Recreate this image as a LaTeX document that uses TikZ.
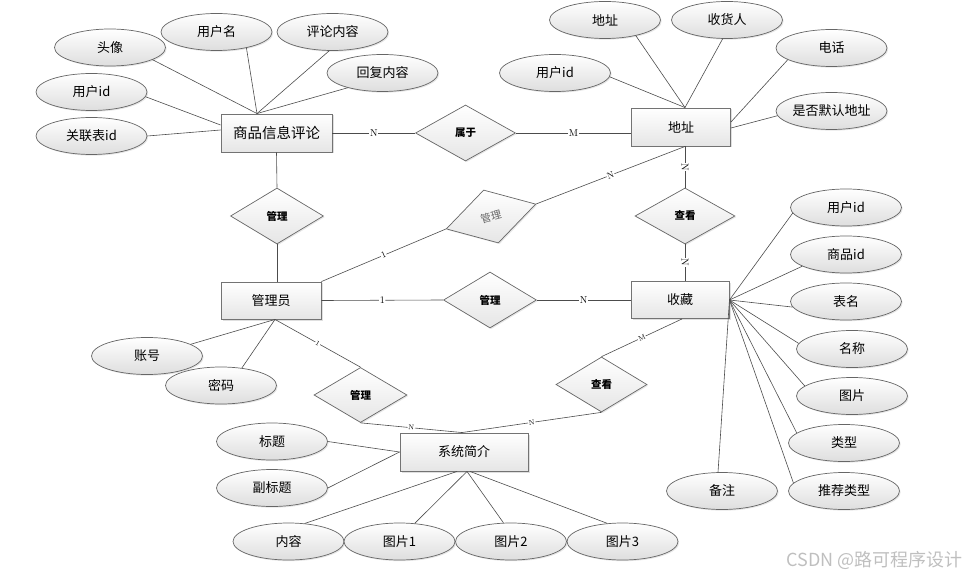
\documentclass[tikz,border=0pt]{standalone}
\usepackage{fontspec}
\newfontfamily\cjk{Noto Sans CJK SC}
\usetikzlibrary{shapes.geometric,shadows,calc}
\tikzset{
  ent/.style={draw=black!55,line width=.9pt,top color=white,bottom color=black!10,inner sep=0pt,
    minimum height=38pt,font=\cjk\fontsize{13pt}{15pt}\selectfont,
    drop shadow={shadow xshift=1.5pt,shadow yshift=-1.5pt,opacity=.25}},
  attr/.style={ellipse,draw=black!60,line width=.7pt,top color=white,bottom color=black!13,inner sep=0pt,
    minimum width=111pt,minimum height=37pt,font=\cjk\fontsize{13pt}{15pt}\selectfont,
    drop shadow={shadow xshift=1.2pt,shadow yshift=-1.2pt,opacity=.2}},
  rel/.style={diamond,draw=black!60,line width=.7pt,top color=white,bottom color=black!10,inner sep=0pt,
    minimum width=93pt,minimum height=56pt,font=\cjk\bfseries\fontsize{10.5pt}{12pt}\selectfont,
    drop shadow={shadow xshift=1.2pt,shadow yshift=-1.2pt,opacity=.2}},
  lnk/.style={draw=black!70,line width=.6pt},
  card/.style={midway,sloped,fill=white,inner sep=.6pt,font=\rmfamily\fontsize{10pt}{10pt}\selectfont},
  scard/.style={card,font=\rmfamily\fontsize{7pt}{7pt}\selectfont}
}
\begin{document}
\begin{tikzpicture}[x=1pt,y=-1pt]
  \useasboundingbox (0,0) rectangle (969,577);
  \node[ent,minimum width=111pt,font=\cjk\fontsize{14.5pt}{16pt}\selectfont] at (276.5,133) (pl) {商品信息评论};
  \node[ent,minimum width=99pt]  at (681,127)   (dz)  {地址};
  \node[ent,minimum width=100pt,minimum height=37pt] at (271,300.5) (gly) {管理员};
  \node[ent,minimum width=98pt,minimum height=37pt]  at (680,300)   (sc)  {收藏};
  \node[ent,minimum width=128pt] at (464,452)   (xt)  {系统简介};

  \node[rel,minimum width=100pt] at (465.5,133) (sy)  {属于};
  \node[rel] at (277,216)   (gl1) {管理};
  \node[rel,minimum height=55pt,rotate=15.5,font=\cjk\fontsize{10.5pt}{12pt}\selectfont,text=black!60] at (491,216.5) (gl2) {管理};
  \node[rel,minimum width=100pt] at (685,216) (ck1) {查看};
  \node[rel] at (490,300)   (gl3) {管理};
  \node[rel,minimum height=55pt] at (360.5,395) (gl4) {管理};
  \node[rel,minimum width=91pt,minimum height=55pt] at (601.5,384.5) (ck2) {查看};

  \node[attr] at (110,47.5)  (a1) {头像};
  \node[attr] at (216.5,32)  (a2) {用户名};
  \node[attr] at (332.5,32)  (a3) {评论内容};
  \node[attr] at (382.5,73)  (a4) {回复内容};
  \node[attr] at (91.5,92)   (a5) {用户id};
  \node[attr] at (91.5,136)  (a6) {关联表id};

  \node[attr] at (605,20)    (b1) {地址};
  \node[attr] at (727,20)    (b2) {收货人};
  \node[attr] at (831.5,48)  (b3) {电话};
  \node[attr] at (555,73)    (b4) {用户id};
  \node[attr] at (831.5,111) (b5) {是否默认地址};

  \node[attr] at (846,207.5) (c1) {用户id};
  \node[attr] at (846,254.5) (c2) {商品id};
  \node[attr] at (846,301.5) (c3) {表名};
  \node[attr] at (852,349)   (c4) {名称};
  \node[attr] at (852,396)   (c5) {图片};
  \node[attr] at (844,443)   (c6) {类型};
  \node[attr] at (844,491)   (c7) {推荐类型};
  \node[attr] at (722,491)   (c8) {备注};

  \node[attr] at (147,356)   (d1) {账号};
  \node[attr] at (221,385.5) (d2) {密码};

  \node[attr] at (272,441.5) (e1) {标题};
  \node[attr] at (272,488)   (e2) {副标题};
  \node[attr] at (288.5,541.5) (e3) {内容};
  \node[attr] at (399.5,541.5) (e4) {图片1};
  \node[attr] at (511,541.5)   (e5) {图片2};
  \node[attr] at (622.5,541.5) (e6) {图片3};

  \draw[lnk] (a1.344) -- ([xshift=-19.5pt]pl.north);
  \draw[lnk] (a2.332) -- ([xshift=-19.5pt]pl.north);
  \draw[lnk] (a3.260) -- ([xshift=-19.5pt]pl.north);
  \draw[lnk] (a4.203) -- ([xshift=-19.5pt]pl.north);
  \draw[lnk] (a5.355) -- ([yshift=8pt]pl.west);
  \draw[lnk] (a6.east) -- ([yshift=3pt]pl.west);

  \draw[lnk] (b1.333) -- ([xshift=4pt]dz.north);
  \draw[lnk] (b2.257) -- ([xshift=4pt]dz.north);
  \draw[lnk] (b4.356) -- ([xshift=4pt]dz.north);
  \draw[lnk] (b3.195) -- ([yshift=5pt]dz.east);
  \draw[lnk] (b5.185) -- ([yshift=-1pt]dz.east);

  \draw[lnk] (c1.186) -- (sc.east);
  \draw[lnk] (c2.195) -- (sc.east);
  \draw[lnk] (c3.186) -- (sc.east);
  \draw[lnk] (c4.174) -- (sc.east);
  \draw[lnk] (c5.168) -- (sc.east);
  \draw[lnk] (c6.168) -- (sc.east);
  \draw[lnk] (c7.171) -- (sc.east);
  \draw[lnk] (c8.102) -- (sc.east);

  \draw[lnk] (d1.15) -- ([xshift=4pt]gly.south);
  \draw[lnk] (d2.40) -- ([xshift=4pt]gly.south);

  \draw[lnk] (e1.east) -- (xt.west);
  \draw[lnk] (e2.east) -- (xt.west);
  \draw[lnk] (e3.48)  -- ([xshift=-7pt]xt.south);
  \draw[lnk] (e4.50)  -- ([xshift=3pt]xt.south);
  \draw[lnk] (e5.112) -- ([xshift=3pt]xt.south);
  \draw[lnk] (e6.130) -- ([xshift=6pt]xt.south);

  \draw[lnk] (pl.east) -- (sy.west) node[card] {N};
  \draw[lnk] (sy.east) -- ([yshift=-6pt]dz.west) node[card] {M};
  \draw[lnk] (pl.south) -- (gl1.north);
  \draw[lnk] (gl1.south) -- (gl1.south |- gly.north);
  \draw[lnk] (gly.north east) -- (gl2.west) node[card,font=\rmfamily\fontsize{9pt}{9pt}\selectfont] {1};
  \draw[lnk] (gl2.east) -- ([xshift=4pt]dz.south) node[card,font=\rmfamily\fontsize{9pt}{9pt}\selectfont] {N};
  \draw[lnk] ([xshift=4pt]dz.south) -- (ck1.north) node[card] {N};
  \draw[lnk] (ck1.south) -- (ck1.south |- sc.north) node[card] {N};
  \draw[lnk] (gly.east) -- (gl3.west) node[card] {1};
  \draw[lnk] (gl3.east) -- (sc.west) node[card] {N};
  \draw[lnk] ([xshift=4pt]gly.south) -- (gl4.north) node[scard] {1};
  \draw[lnk] (gl4.south) -- ([xshift=-2pt]xt.north) node[scard] {N};
  \draw[lnk] ([xshift=2pt]sc.south) -- (ck2.north) node[scard] {M};
  \draw[lnk] (ck2.south) -- ([xshift=-2pt]xt.north) node[scard] {N};

  \node[anchor=east,text=black!25,font=\cjk\fontsize{18pt}{20pt}\selectfont] at (966,560) (wm) {CSDN @路可程序设计};
\end{tikzpicture}
\end{document}
